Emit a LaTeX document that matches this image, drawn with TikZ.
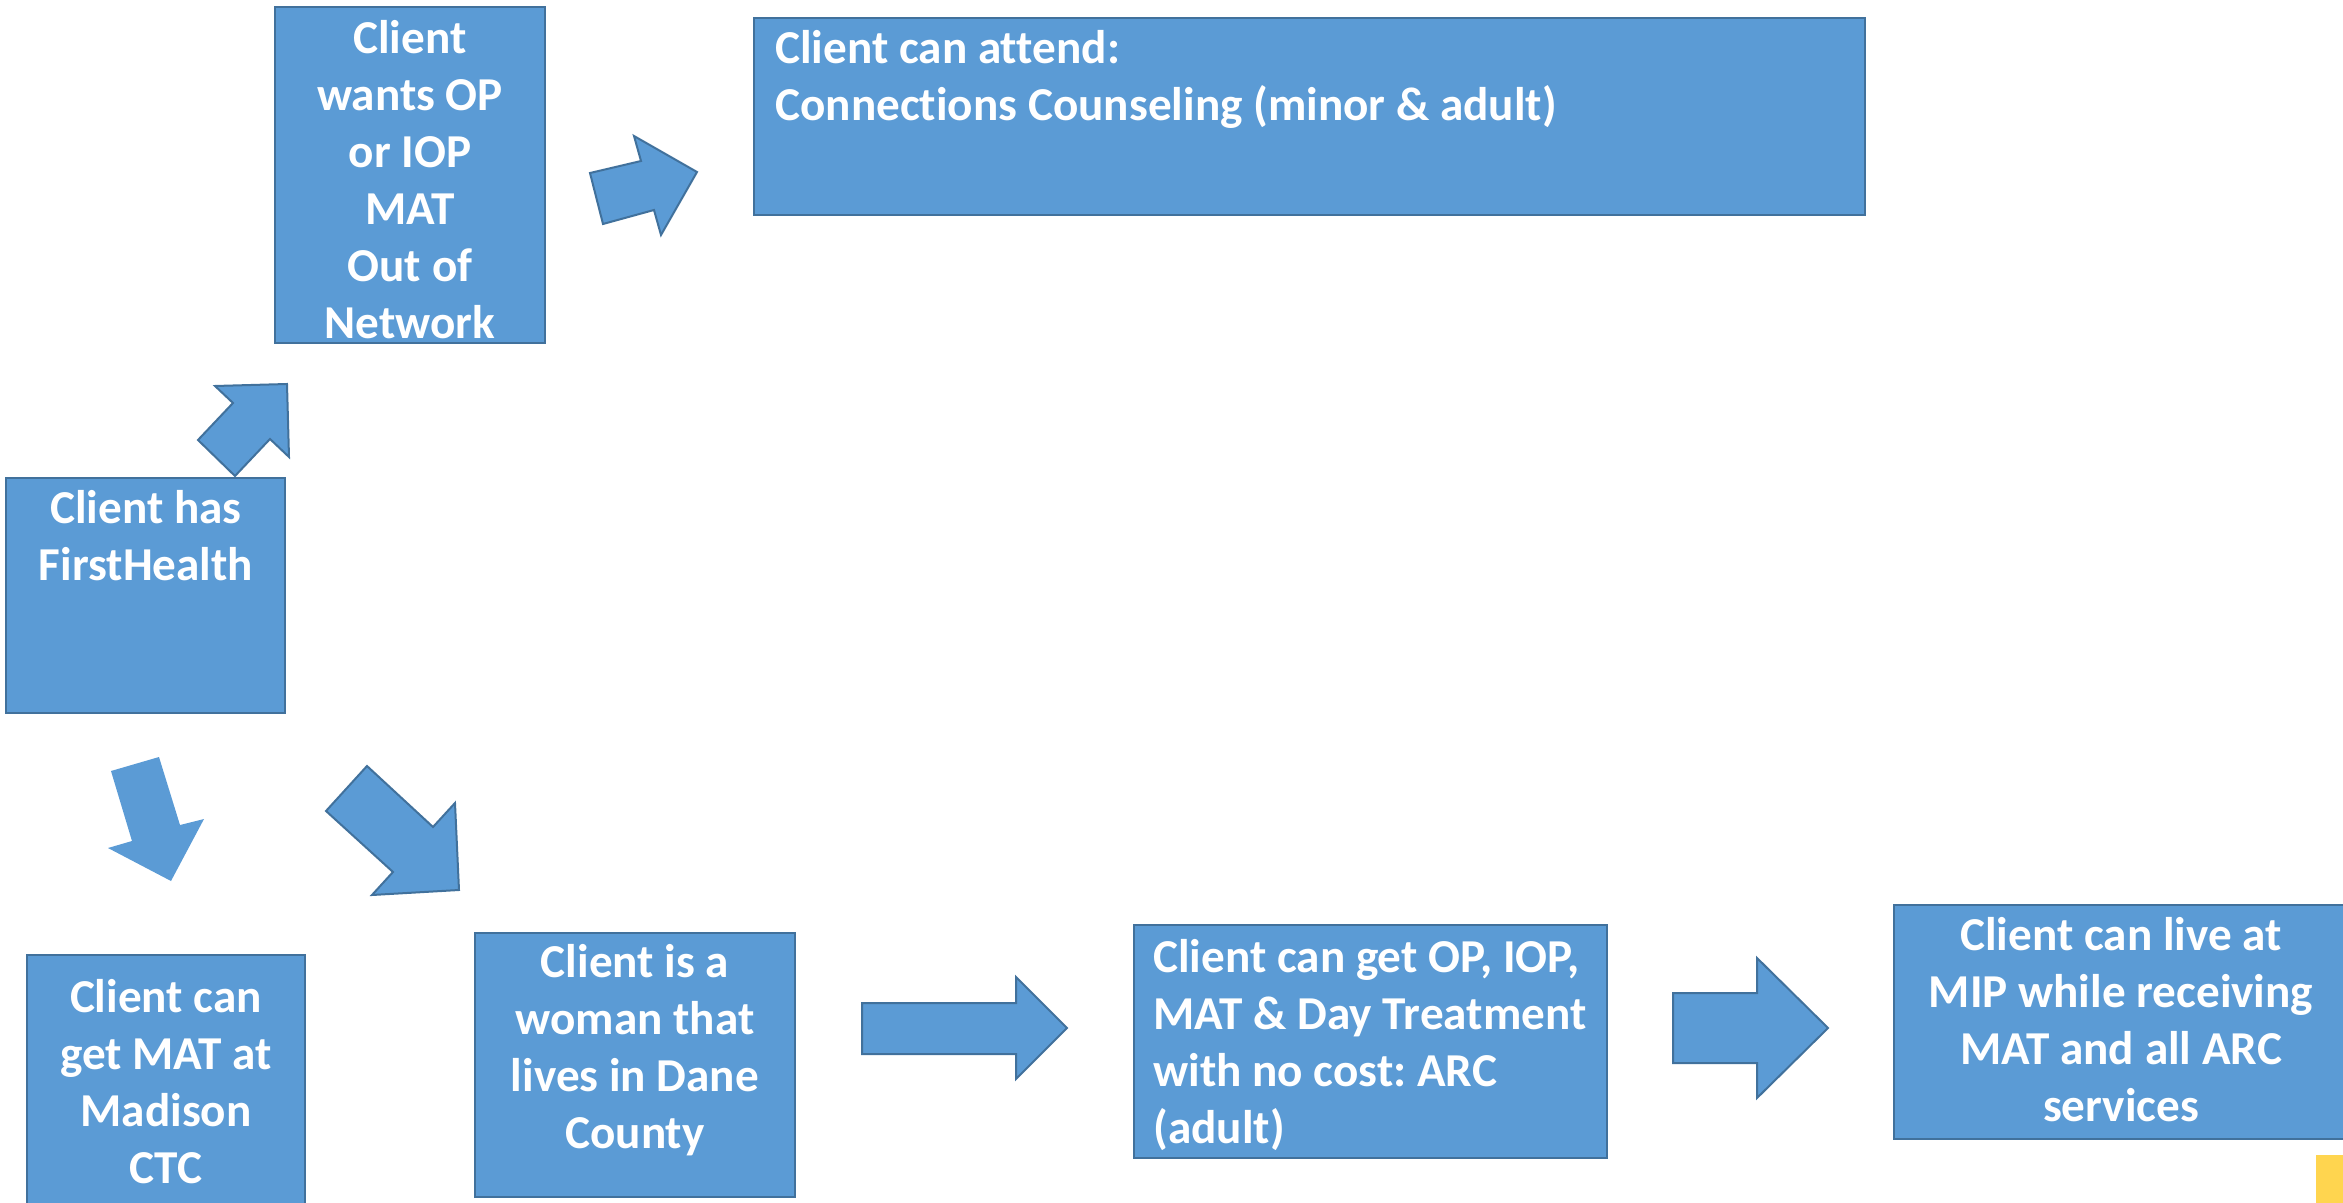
\documentclass[tikz,border=0pt]{standalone}
\usepackage{fontspec}
\setmainfont{Carlito}[Ligatures={NoCommon}]
\frenchspacing
\definecolor{boxfill}{HTML}{5B9BD5}
\definecolor{boxline}{HTML}{41719C}
\definecolor{ygold}{HTML}{FFD54F}
\begin{document}
\begin{tikzpicture}[x=0.5pt,y=-0.5pt,
  box/.style={draw=boxline, fill=boxfill, line width=1pt, anchor=north west, inner sep=0pt, outer sep=0pt},
  lbl/.style={text=white, font=\fontsize{23.6}{28.5}\selectfont\bfseries\frenchspacing, inner sep=0pt, align=center, anchor=north},
  lbll/.style={lbl, align=left, anchor=north west},
  barrow/.style={draw=boxline, fill=boxfill, line width=1pt, line join=miter},
  barrownb/.style={fill=boxfill}]
\useasboundingbox (0,0) rectangle (2343,1203);
% boxes
\node[box, minimum width=139.5pt, minimum height=117.5pt] (fh) at (6,478) {};
\node[box, minimum width=135pt, minimum height=168pt] (op) at (275,7) {};
\node[box, minimum width=555.5pt, minimum height=98.5pt] (att) at (754,18) {};
\node[box, minimum width=139pt, minimum height=135pt] (ctc) at (27,955) {};
\node[box, minimum width=160pt, minimum height=132pt] (wom) at (475,933) {};
\node[box, minimum width=236.5pt, minimum height=116.5pt] (arc) at (1134,925) {};
\node[box, minimum width=235pt, minimum height=117pt] (mip) at (1894,905) {};
% texts
\node[lbl] (fht) at (146,483) {\rule{0pt}{20pt}Client has\\FirstHealth};
\node[lbl] (opt) at (410,13) {\rule{0pt}{20pt}Client\\wants OP\\or IOP\\MAT\\Out of\\Network};
\node[lbll] (attt) at (775,23) {\rule{0pt}{20pt}Client can attend:\\Connections Counseling (minor \& adult)};
\node[lbl] (ctct) at (166,972) {\rule{0pt}{20pt}Client can\\get MAT at\\Madison\\CTC};
\node[lbl] (womt) at (635,937) {\rule{0pt}{20pt}Client is a\\woman that\\lives in Dane\\County};
\node[lbll] (arct) at (1153,932) {\rule{0pt}{20pt}Client can get OP, IOP,\\MAT \& Day Treatment\\with no cost: ARC\\(adult)};
\node[lbl] (mipt) at (2121,910) {\rule{0pt}{20pt}Client can live at\\MIP while receiving\\MAT and all ARC\\services};
% block arrows
\path[barrow] (215,386) -- (287,384) -- (289,457) -- (270,439) -- (235,476) -- (198,440) -- (233,403) -- cycle;
\path[barrow] (590,173) -- (641,161) -- (634,136) -- (697,172) -- (661,235) -- (654,210) -- (603,224) -- cycle;
\path[barrownb] (111,771) -- (159,757) -- (180,825) -- (204,819) -- (171,881) -- (108,848) -- (132,841) -- cycle;
\path[barrow] (326,811) -- (367,766) -- (433,827) -- (455,803) -- (459,890) -- (372,895) -- (393,872) -- cycle;
\path[barrow] (862,1003) -- (1016,1003) -- (1016,977) -- (1067,1028) -- (1016,1079) -- (1016,1054) -- (862,1054) -- cycle;
\path[barrow] (1673,993) -- (1757,993) -- (1757,958) -- (1828,1028) -- (1757,1098) -- (1757,1063) -- (1673,1063) -- cycle;
% corner accent
\fill[ygold] (2316,1155) rectangle (2350,1210);
\end{tikzpicture}
\end{document}
